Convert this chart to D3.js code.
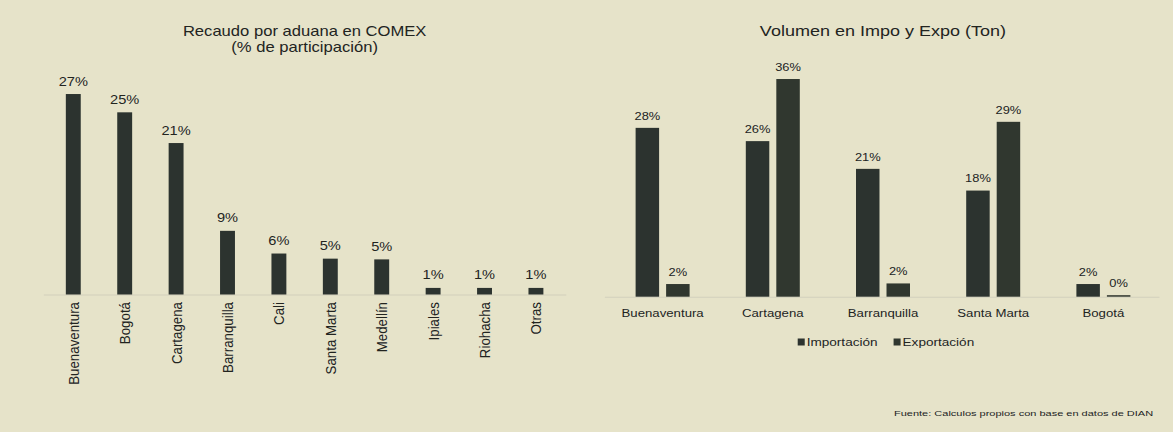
<!DOCTYPE html>
<html>
<head>
<meta charset="utf-8">
<script src="https://cdn.jsdelivr.net/npm/d3@7"></script>
<style>
  html, body { margin: 0; padding: 0; background: #e6e3c9; }
  svg { display: block; }
  text { font-family: "Liberation Sans", Arial, sans-serif; fill: #22241f; }
</style>
</head>
<body>
<svg id="chart" width="1173" height="432"></svg>
<script>
// Left chart: recaudo por aduana (%)
const aduanas = ["Buenaventura", "Bogotá", "Cartagena", "Barranquilla", "Cali",
  "Santa Marta", "Medellín", "Ipiales", "Riohacha", "Otras"];
const recaudo = [27.4, 24.9, 20.7, 8.7, 5.6, 4.9, 4.8, 0.9, 0.9, 0.9];

// Right chart: volumen impo / expo (%)
const puertos = ["Buenaventura", "Cartagena", "Barranquilla", "Santa Marta", "Bogotá"];
const importacion = [28.0, 25.8, 21.2, 17.6, 2.1];
const exportacion = [2.1, 36.1, 2.2, 29.0, 0.25];
const series = ["Importación", "Exportación"];

const titleLeft = ["Recaudo por aduana en COMEX", "(% de participación)"];
const titleRight = "Volumen en Impo y Expo (Ton)";
const fuente = "Fuente: Calculos propios con base en datos de DIAN";

// the scan is stretched horizontally, so draw everything inside a scaled group
const SX = 1.17;
const barColor = ["#2c332f", "#30372f"];
const pct = d3.format(".0f");

const svg = d3.select("#chart");
svg.append("rect").attr("width", 1173).attr("height", 432).attr("fill", "#e6e3c9");
const root = svg.append("g").attr("transform", `scale(${SX},1)`);

// ---------- left chart ----------
const xL = d3.scaleBand()
  .domain(aduanas)
  .range([34.3, 486.4])
  .paddingInner(0.71)
  .paddingOuter(0.5);

const yL = d3.scaleLinear().domain([0, 30]).range([294.5, 75]);

const left = root.append("g");

left.append("line")
  .attr("x1", 37.5).attr("x2", 484)
  .attr("y1", yL(0) + 0.5).attr("y2", yL(0) + 0.5)
  .attr("stroke", "#d2d0bc").attr("stroke-width", 1);

left.selectAll(".barL")
  .data(recaudo)
  .join("rect")
  .attr("class", "barL")
  .attr("x", (d, i) => xL(aduanas[i]))
  .attr("y", d => yL(d))
  .attr("width", xL.bandwidth())
  .attr("height", d => yL(0) - yL(d))
  .attr("fill", barColor[0]);

left.selectAll(".valL")
  .data(recaudo)
  .join("text")
  .attr("class", "valL")
  .attr("x", (d, i) => xL(aduanas[i]) + xL.bandwidth() / 2)
  .attr("y", d => yL(d) - 8.5)
  .attr("text-anchor", "middle")
  .style("font-size", "12.5px")
  .text(d => pct(d) + "%");

left.selectAll(".catL")
  .data(aduanas)
  .join("text")
  .attr("class", "catL")
  .attr("transform", d => `translate(${xL(d) + xL.bandwidth() / 2}, 302) rotate(-90)`)
  .attr("dy", "0.35em")
  .attr("text-anchor", "end")
  .style("font-size", "13.3px")
  .text(d => d);

left.selectAll(".titleL")
  .data(titleLeft)
  .join("text")
  .attr("class", "titleL")
  .attr("x", 260.4)
  .attr("y", (d, i) => 36 + i * 16.5)
  .attr("text-anchor", "middle")
  .style("font-size", "14.2px")
  .text(d => d);

// ---------- right chart ----------
const x0 = d3.scaleBand()
  .domain(puertos)
  .range([515, 994.4])
  .paddingInner(0.51)
  .paddingOuter(0.3);

const x1 = d3.scaleBand()
  .domain(series)
  .range([0, x0.bandwidth()])
  .paddingInner(0.23);

const yR = d3.scaleLinear().domain([0, 40]).range([296.7, 55.5]);

const rows = puertos.map((p, i) => ({
  puerto: p,
  vals: [
    { serie: series[0], v: importacion[i] },
    { serie: series[1], v: exportacion[i] }
  ]
}));

const right = root.append("g");

right.append("line")
  .attr("x1", 517).attr("x2", 991)
  .attr("y1", yR(0) + 0.5).attr("y2", yR(0) + 0.5)
  .attr("stroke", "#d2d0bc").attr("stroke-width", 1);

right.append("text")
  .attr("x", 754.7)
  .attr("y", 36.5)
  .attr("text-anchor", "middle")
  .style("font-size", "15.4px")
  .text(titleRight);

const groups = right.selectAll(".grp")
  .data(rows)
  .join("g")
  .attr("class", "grp")
  .attr("transform", d => `translate(${x0(d.puerto)},0)`);

groups.selectAll("rect")
  .data(d => d.vals)
  .join("rect")
  .attr("x", d => x1(d.serie))
  .attr("y", d => yR(d.v))
  .attr("width", x1.bandwidth())
  .attr("height", d => yR(0) - yR(d.v))
  .attr("fill", (d, i) => barColor[i]);

groups.selectAll(".valR")
  .data(d => d.vals)
  .join("text")
  .attr("class", "valR")
  .attr("x", d => x1(d.serie) + x1.bandwidth() / 2)
  .attr("y", d => yR(d.v) - 8.3)
  .attr("text-anchor", "middle")
  .style("font-size", "11px")
  .text(d => pct(d.v) + "%");

groups.append("text")
  .attr("x", x0.bandwidth() / 2)
  .attr("y", 317.5)
  .attr("text-anchor", "middle")
  .style("font-size", "11.3px")
  .text(d => d.puerto);

// legend
const legend = right.append("g").attr("transform", "translate(681.8, 0)");
let lx = 0;
series.forEach((s, i) => {
  const item = legend.append("g").attr("transform", `translate(${lx},0)`);
  item.append("rect")
    .attr("x", 0).attr("y", 338.5)
    .attr("width", 6).attr("height", 7)
    .attr("fill", barColor[i]);
  const t = item.append("text")
    .attr("x", 7.7).attr("y", 345.7)
    .style("font-size", "11.6px")
    .text(s);
  lx += 7.7 + t.node().getComputedTextLength() + 13.7;
});

// source
right.append("text")
  .attr("x", 764.1)
  .attr("y", 416)
  .attr("textLength", 221.5)
  .attr("lengthAdjust", "spacingAndGlyphs")
  .style("font-size", "8px")
  .text(fuente);
</script>
</body>
</html>
